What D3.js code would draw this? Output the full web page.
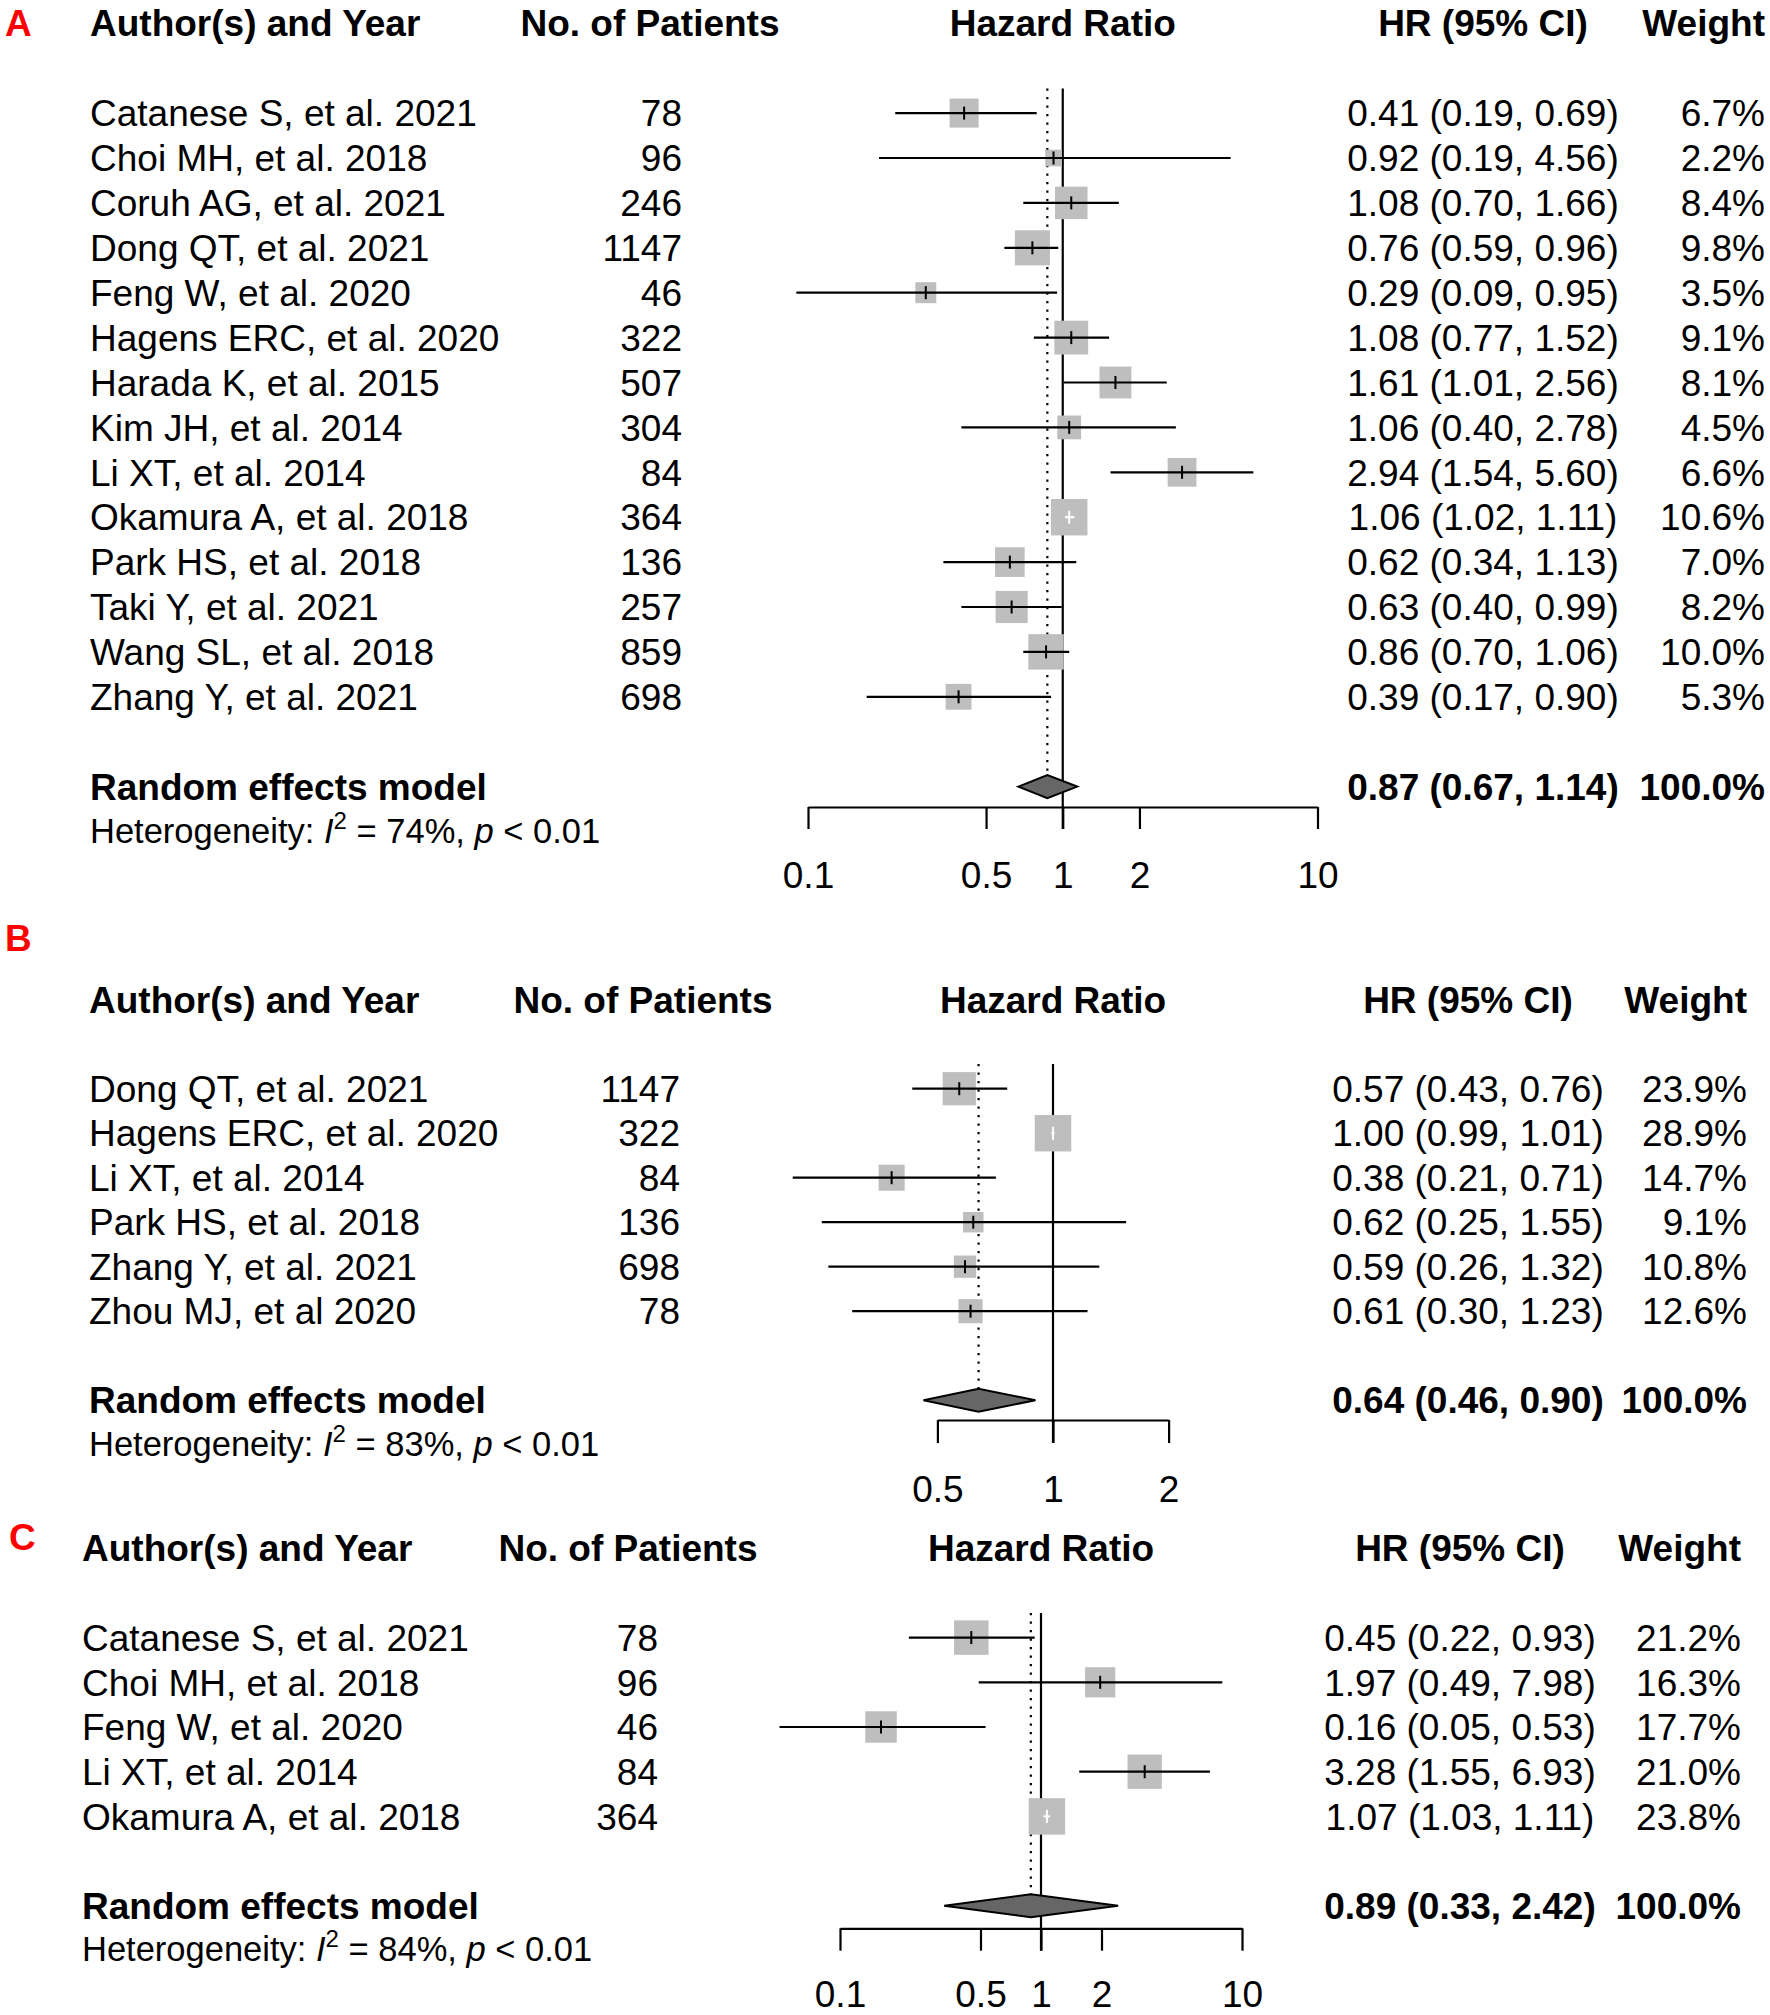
<!DOCTYPE html>
<html>
<head>
<meta charset="utf-8">
<script src="https://cdn.jsdelivr.net/npm/d3@7"></script>
<style>
  html, body { margin: 0; padding: 0; background: #ffffff; }
  svg { display: block; }
</style>
</head>
<body>
<svg id="chart" width="1770" height="2015"></svg>
<script>
// ---------------- DATA ----------------
// Panel A
const aStudies = ["Catanese S, et al. 2021", "Choi MH, et al. 2018", "Coruh AG, et al. 2021", "Dong QT, et al. 2021",
  "Feng W, et al. 2020", "Hagens ERC, et al. 2020", "Harada K, et al. 2015", "Kim JH, et al. 2014",
  "Li XT, et al. 2014", "Okamura A, et al. 2018", "Park HS, et al. 2018", "Taki Y, et al. 2021",
  "Wang SL, et al. 2018", "Zhang Y, et al. 2021"];
const aPatients = [78, 96, 246, 1147, 46, 322, 507, 304, 84, 364, 136, 257, 859, 698];
const aHR    = [0.41, 0.92, 1.08, 0.76, 0.29, 1.08, 1.61, 1.06, 2.94, 1.06, 0.62, 0.63, 0.86, 0.39];
const aLower = [0.19, 0.19, 0.70, 0.59, 0.09, 0.77, 1.01, 0.40, 1.54, 1.02, 0.34, 0.40, 0.70, 0.17];
const aUpper = [0.69, 4.56, 1.66, 0.96, 0.95, 1.52, 2.56, 2.78, 5.60, 1.11, 1.13, 0.99, 1.06, 0.90];
// interval ends as drawn in the plot (first study's line differs from its printed CI)
const aDrawnLower = [0.22, 0.19, 0.70, 0.59, 0.09, 0.77, 1.01, 0.40, 1.54, 1.02, 0.34, 0.40, 0.70, 0.17];
const aDrawnUpper = [0.79, 4.56, 1.66, 0.96, 0.95, 1.52, 2.56, 2.78, 5.60, 1.11, 1.13, 0.99, 1.06, 0.90];
const aWeight = [6.7, 2.2, 8.4, 9.8, 3.5, 9.1, 8.1, 4.5, 6.6, 10.6, 7.0, 8.2, 10.0, 5.3];
const aSummary = [0.87, 0.67, 1.14];
const aI2 = "74%";
const aTicks = [0.1, 0.5, 1, 2, 10];
const aTickLabels = ["0.1", "0.5", "1", "2", "10"];

// Panel B
const bStudies = ["Dong QT, et al. 2021", "Hagens ERC, et al. 2020", "Li XT, et al. 2014", "Park HS, et al. 2018",
  "Zhang Y, et al. 2021", "Zhou MJ, et al 2020"];
const bPatients = [1147, 322, 84, 136, 698, 78];
const bHR    = [0.57, 1.00, 0.38, 0.62, 0.59, 0.61];
const bLower = [0.43, 0.99, 0.21, 0.25, 0.26, 0.30];
const bUpper = [0.76, 1.01, 0.71, 1.55, 1.32, 1.23];
const bWeight = [23.9, 28.9, 14.7, 9.1, 10.8, 12.6];
const bSummary = [0.64, 0.46, 0.90];
const bI2 = "83%";
const bTicks = [0.5, 1, 2];
const bTickLabels = ["0.5", "1", "2"];

// Panel C
const cStudies = ["Catanese S, et al. 2021", "Choi MH, et al. 2018", "Feng W, et al. 2020", "Li XT, et al. 2014",
  "Okamura A, et al. 2018"];
const cPatients = [78, 96, 46, 84, 364];
const cHR    = [0.45, 1.97, 0.16, 3.28, 1.07];
const cLower = [0.22, 0.49, 0.05, 1.55, 1.03];
const cUpper = [0.93, 7.98, 0.53, 6.93, 1.11];
const cWeight = [21.2, 16.3, 17.7, 21.0, 23.8];
const cSummary = [0.89, 0.33, 2.42];
const cI2 = "84%";
const cTicks = [0.1, 0.5, 1, 2, 10];
const cTickLabels = ["0.1", "0.5", "1", "2", "10"];

const headers = ["Author(s) and Year", "No. of Patients", "Hazard Ratio", "HR (95% CI)", "Weight"];
const summaryLabel = "Random effects model";
const pValueText = "p";
const pValue = " < 0.01";

// ---------------- DRAWING ----------------
const FONT = "'Liberation Sans', Arial, Helvetica, sans-serif";
const FS = 37;
const svg = d3.select("#chart").style("font-family", FONT);
svg.append("rect").attr("width", 1770).attr("height", 2015).attr("fill", "#fff");

function fmt2(v) { return v.toFixed(2); }

function drawPanel(data, L) {
  const g = svg.append("g");
  const n = data.studies.length;
  const x = d3.scaleLog().domain(L.domain).range(L.range);
  const y = d3.scaleLinear().domain([0, 1]).range([L.row0, L.row0 + L.step]);
  const side = d3.scaleSqrt().domain([0, d3.max(data.weight)]).range([0, 36.5]);
  const base = FS * 0.358;
  const ySum = y(n + 1);
  const diamondH = 23;
  const x1 = x(1);
  const dLo = data.drawLo || data.lo, dHi = data.drawHi || data.hi;

  // panel letter
  g.append("text").attr("x", L.letterX).attr("y", L.letterY + base)
    .attr("fill", "#ff0000").attr("font-weight", "bold").attr("font-size", FS)
    .text(L.letter);

  // headers
  const hy = L.headerY + base;
  const hdr = g.append("g").attr("font-weight", "bold").attr("font-size", FS).attr("fill", "#000");
  hdr.append("text").attr("x", L.labelX).attr("y", hy).text(headers[0]);
  hdr.append("text").attr("x", L.patHeadX).attr("y", hy).attr("text-anchor", "middle").text(headers[1]);
  hdr.append("text").attr("x", x1).attr("y", hy).attr("text-anchor", "middle").text(headers[2]);
  hdr.append("text").attr("x", L.hrX).attr("y", hy).attr("text-anchor", "middle").text(headers[3]);
  hdr.append("text").attr("x", L.wX).attr("y", hy).attr("text-anchor", "end").text(headers[4]);

  const idx = d3.range(n);
  // study rows text
  const rows = g.append("g").attr("font-size", FS).attr("fill", "#000");
  rows.selectAll(".lab").data(idx).join("text").attr("x", L.labelX).attr("y", i => y(i) + base)
    .text(i => data.studies[i]);
  rows.selectAll(".pat").data(idx).join("text").attr("x", L.patX).attr("y", i => y(i) + base)
    .attr("text-anchor", "end").text(i => data.patients[i]);
  rows.selectAll(".ci").data(idx).join("text").attr("x", L.hrX).attr("y", i => y(i) + base)
    .attr("text-anchor", "middle")
    .text(i => `${fmt2(data.hr[i])} (${fmt2(data.lo[i])}, ${fmt2(data.hi[i])})`);
  rows.selectAll(".w").data(idx).join("text").attr("x", L.wX).attr("y", i => y(i) + base)
    .attr("text-anchor", "end").text(i => `${data.weight[i].toFixed(1)}%`);

  // summary row text
  const sm = g.append("g").attr("font-size", FS).attr("font-weight", "bold").attr("fill", "#000");
  sm.append("text").attr("x", L.labelX).attr("y", ySum + base).text(summaryLabel);
  sm.append("text").attr("x", L.hrX).attr("y", ySum + base).attr("text-anchor", "middle")
    .text(`${fmt2(data.summary[0])} (${fmt2(data.summary[1])}, ${fmt2(data.summary[2])})`);
  sm.append("text").attr("x", L.wX).attr("y", ySum + base).attr("text-anchor", "end").text("100.0%");

  // heterogeneity
  const HF = 34.5;
  const het = g.append("text").attr("x", L.labelX).attr("y", L.hetY + HF * 0.358)
    .attr("font-size", HF).attr("fill", "#000");
  het.append("tspan").text("Heterogeneity: ");
  het.append("tspan").attr("font-style", "italic").text("I");
  het.append("tspan").attr("font-size", 24).attr("dy", -14).text("2");
  het.append("tspan").attr("dy", 14).text(" = " + data.i2 + ", ");
  het.append("tspan").attr("font-style", "italic").text(pValueText);
  het.append("tspan").text(pValue);

  // axis
  const axis = d3.axisBottom(x).tickValues(data.ticks)
    .tickFormat((d, i) => data.tickLabels[i])
    .tickSize(L.tickLen).tickSizeOuter(0).tickPadding(L.tickPad);
  const ag = g.append("g").attr("transform", `translate(0,${L.axisY})`).call(axis);
  ag.select(".domain").attr("stroke", "#000").attr("stroke-width", 2.2);
  ag.selectAll(".tick line").attr("stroke", "#000").attr("stroke-width", 2.2);
  ag.selectAll(".tick text").attr("font-size", FS).attr("font-family", FONT).attr("fill", "#000");

  // reference line at 1
  g.append("line").attr("x1", x1).attr("x2", x1).attr("y1", L.refTop).attr("y2", L.axisY + L.tickLen)
    .attr("stroke", "#000").attr("stroke-width", 2.2);

  // dotted line at summary estimate
  g.append("line").attr("x1", x(data.summary[0])).attr("x2", x(data.summary[0]))
    .attr("y1", L.refTop).attr("y2", ySum - diamondH / 2)
    .attr("stroke", "#000").attr("stroke-width", 2.2).attr("stroke-dasharray", "2.2,6.3");

  // squares
  g.selectAll(".sq").data(idx).join("rect")
    .attr("x", i => x(data.hr[i]) - side(data.weight[i]) / 2)
    .attr("y", i => y(i) - side(data.weight[i]) / 2)
    .attr("width", i => side(data.weight[i]))
    .attr("height", i => side(data.weight[i]))
    .attr("fill", "#bebebe");

  const inside = i => {
    const h = side(data.weight[i]) / 2, c = x(data.hr[i]);
    return x(dLo[i]) >= c - h && x(dHi[i]) <= c + h;
  };
  // CI lines
  g.selectAll(".cil").data(idx).join("line")
    .attr("x1", i => x(dLo[i])).attr("x2", i => x(dHi[i]))
    .attr("y1", i => y(i)).attr("y2", i => y(i))
    .attr("stroke", i => inside(i) ? "#fff" : "#000").attr("stroke-width", 2.2);
  // estimate ticks
  g.selectAll(".est").data(idx).join("line")
    .attr("x1", i => x(data.hr[i])).attr("x2", i => x(data.hr[i]))
    .attr("y1", i => y(i) - 6.5).attr("y2", i => y(i) + 6.5)
    .attr("stroke", i => inside(i) ? "#fff" : "#000").attr("stroke-width", 2);

  // diamond
  const s = data.summary;
  g.append("polygon")
    .attr("points", [[x(s[1]), ySum], [x(s[0]), ySum - diamondH / 2], [x(s[2]), ySum], [x(s[0]), ySum + diamondH / 2]]
      .map(p => p.join(",")).join(" "))
    .attr("fill", "#666666").attr("stroke", "#000").attr("stroke-width", 2);
}

drawPanel(
  { studies: aStudies, patients: aPatients, hr: aHR, lo: aLower, hi: aUpper, drawLo: aDrawnLower, drawHi: aDrawnUpper,
    weight: aWeight, summary: aSummary, i2: aI2, ticks: aTicks, tickLabels: aTickLabels },
  { letter: "A", letterX: 5, letterY: 23, headerY: 23, labelX: 90, patHeadX: 650, patX: 682,
    hrX: 1483, wX: 1765, domain: [0.1, 10], range: [808, 1317.5], row0: 113.1, step: 44.9,
    hetY: 831, axisY: 807, tickLen: 22, tickPad: 33, refTop: 88.5 });

drawPanel(
  { studies: bStudies, patients: bPatients, hr: bHR, lo: bLower, hi: bUpper, weight: bWeight,
    summary: bSummary, i2: bI2, ticks: bTicks, tickLabels: bTickLabels },
  { letter: "B", letterX: 5, letterY: 938, headerY: 1000, labelX: 89, patHeadX: 643, patX: 680,
    hrX: 1468, wX: 1747, domain: [0.5, 2], range: [937.4, 1168.6], row0: 1088.7, step: 44.5,
    hetY: 1444, axisY: 1420, tickLen: 23, tickPad: 32.5, refTop: 1064 });

drawPanel(
  { studies: cStudies, patients: cPatients, hr: cHR, lo: cLower, hi: cUpper, weight: cWeight,
    summary: cSummary, i2: cI2, ticks: cTicks, tickLabels: cTickLabels },
  { letter: "C", letterX: 9, letterY: 1537, headerY: 1547.6, labelX: 82, patHeadX: 628, patX: 658,
    hrX: 1460, wX: 1741, domain: [0.1, 10], range: [840, 1242], row0: 1637.6, step: 44.7,
    hetY: 1949, axisY: 1928.3, tickLen: 22.4, tickPad: 30, refTop: 1613 });
</script>
</body>
</html>
